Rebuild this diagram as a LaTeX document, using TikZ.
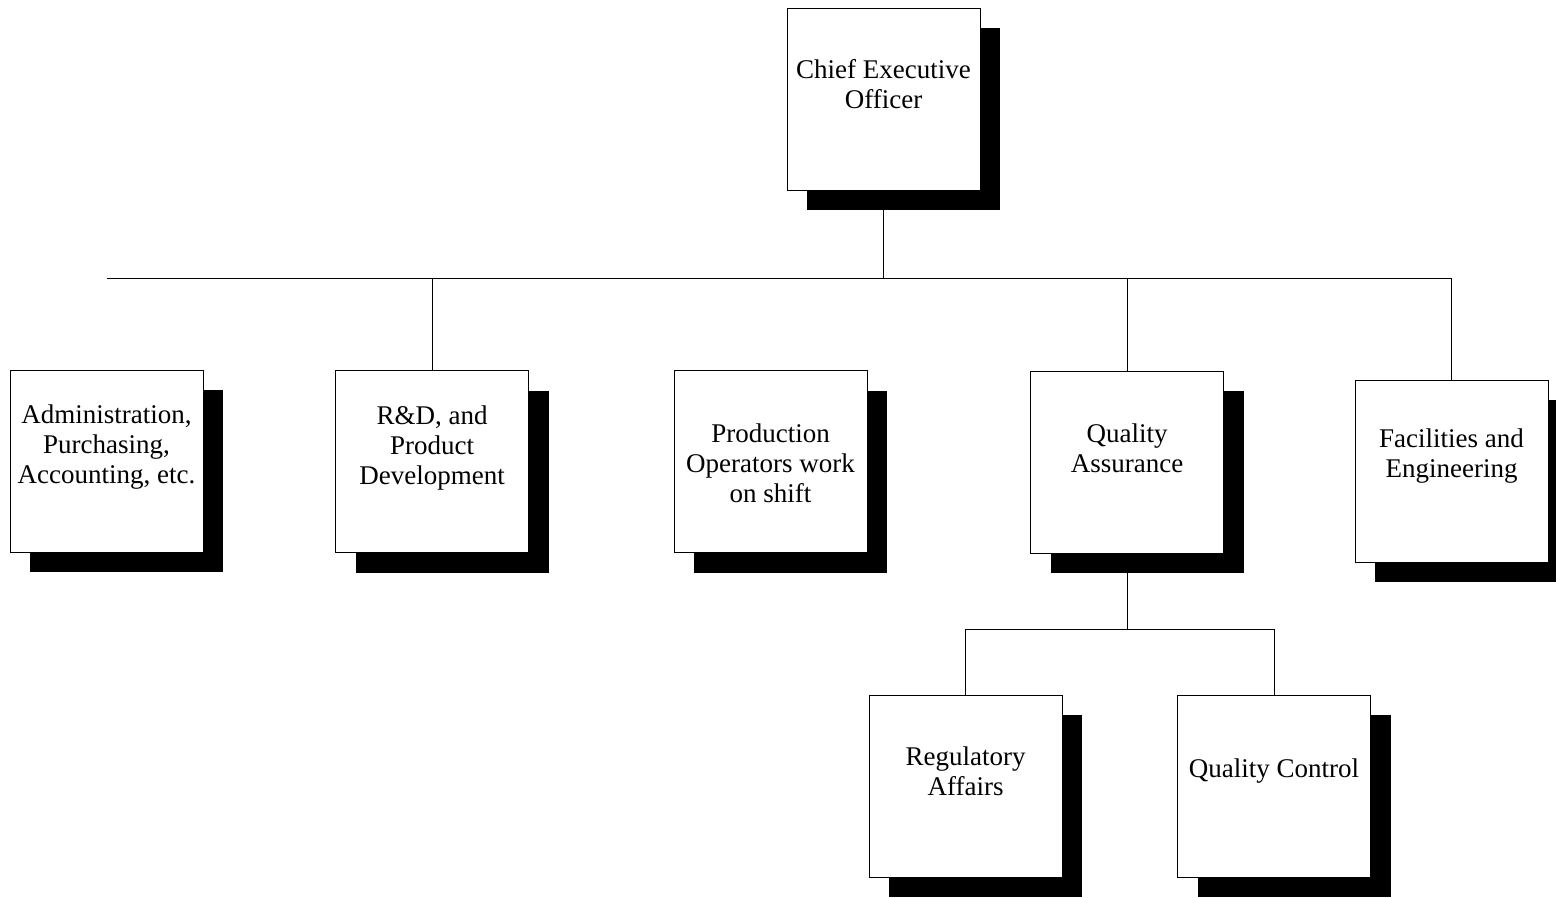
\documentclass[tikz,border=0pt]{standalone}
\usepackage{fontspec}
\setmainfont{Liberation Serif}
\usetikzlibrary{shadows}

\begin{document}
\begin{tikzpicture}[x=0.5pt,y=-0.5pt,
    unit/.style={draw=black, thin, fill=white, minimum width=96.5pt, minimum height=91pt, inner sep=0pt,
        general shadow={fill=black, shadow xshift=10pt, shadow yshift=-10pt}},
    label/.style={align=center, inner sep=0pt, font=\fontsize{13.5}{15}\selectfont}]
            \tikzstyle{every path}+=[thin]
            \useasboundingbox (0,0) rectangle (1556,898);
            % boxes
            \node [unit] (ceo) at (883.5,99) {};
            \node [unit] (admin) at (106.5,461) {};
            \node [unit] (rnd) at (432,461.5) {};
            \node [unit] (prod) at (770.5,461.5) {};
            \node [unit] (qa) at (1127,462) {};
            \node [unit] (fac) at (1451.5,471) {};
            \node [unit] (reg) at (965.5,786) {};
            \node [unit] (qc) at (1274,786) {};
            % texts
            \node [label] (ceo-t) at (883.5,84) {Chief Executive\\Officer};
            \node [label] (admin-t) at (106.5,447) {Administration,\\Purchasing,\\Accounting, etc.};
            \node [label] (rnd-t) at (432,448) {R\&D, and\\Product\\Development};
            \node [label] (prod-t) at (770.5,463) {Production\\Operators work\\on shift};
            \node [label] (qa-t) at (1127,448) {Quality\\Assurance};
            \node [label] (fac-t) at (1451.5,456) {Facilities and\\Engineering};
            \node [label] (reg-t) at (965.5,771) {Regulatory\\Affairs};
            \node [label] (qc-t) at (1274,771) {Quality Control};
            % lines
            \coordinate (bus) at (883.5,278);
            \coordinate (qabus) at (1127,629);
            \draw (ceo.south) -- (bus);
            \draw (admin.north |- bus) -- (fac.north |- bus);
            \foreach \n in {rnd,qa,fac}
                \draw (\n.north |- bus) -- (\n.north);
            \draw (qa.south) -- (qabus);
            \draw (reg.north |- qabus) -- (qc.north |- qabus);
            \foreach \n in {reg,qc}
                \draw (\n.north |- qabus) -- (\n.north);
\end{tikzpicture}
\end{document}
